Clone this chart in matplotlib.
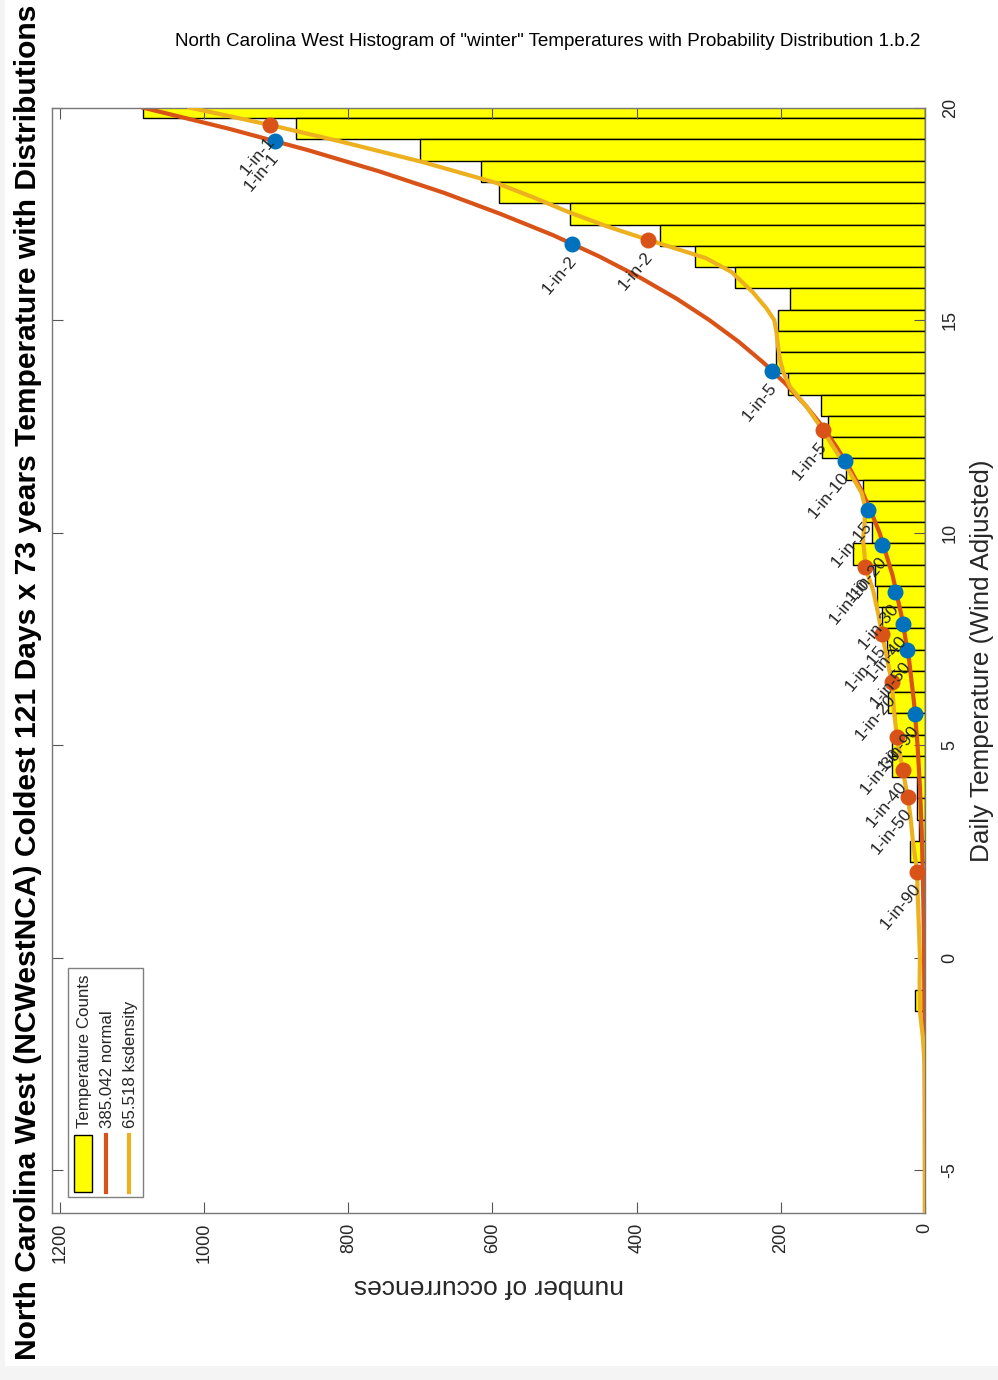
import matplotlib
matplotlib.use('Agg')
import matplotlib.pyplot as plt
from matplotlib.patches import Rectangle
from matplotlib.lines import Line2D

plt.rcParams['font.family'] = ['Liberation Sans', 'DejaVu Sans']
plt.rcParams['axes.unicode_minus'] = False

W, H = 998, 1380

# histogram of daily temperatures (bin centre, count); bins are 0.5 deg wide
bin_temps = [20.0, 19.5, 19.0, 18.5, 18.0, 17.5, 17.0, 16.5, 16.0, 15.5,
             15.0, 14.5, 14.0, 13.5, 13.0, 12.5, 12.0, 11.5, 11.0, 10.5,
             10.0, 9.5, 9.0, 8.5, 8.0, 7.5, 7.0, 6.5, 6.0, 5.5,
             5.0, 4.5, 4.0, 3.5, 3.0, 2.5, 2.0, 1.5, 1.0, 0.5,
             0.0, -0.5, -1.0]
bin_counts = [1085, 872, 700, 616, 591, 493, 368, 319, 264, 187,
              204, 207, 207, 190, 144, 134, 143, 109, 86, 83,
              74, 100, 69, 67, 60, 53, 51, 49, 51, 42,
              46, 46, 11, 11, 8, 21, 0, 0, 0, 0,
              0, 0, 14]

# fitted normal curve, scaled to counts
norm_temps = [20.0, 19.5, 19.0, 18.5, 18.0, 17.5, 17.0, 16.5, 16.0, 15.5,
              15.0, 14.5, 14.0, 13.5, 13.0, 12.5, 12.0, 11.5, 11.0, 10.5,
              10.0, 9.0, 8.0, 7.0, 6.0, 5.0, 4.0, 3.0, 2.0, 1.0,
              0.0, -2.0, -4.0, -6.0]
norm_counts = [1085, 965, 856, 757, 668, 589, 516, 452, 395, 344,
               299, 259, 224, 193, 166, 142, 122, 104, 88, 75,
               63, 45, 32, 22, 15.2, 10.3, 7.0, 4.6, 3.1, 2.0,
               1.3, 0.5, 0.2, 0.08]

# kernel density curve, scaled to counts
ks_temps = [20.0, 19.59, 19.2, 18.72, 18.23, 17.9, 17.54, 17.2, 16.89, 16.46,
            16.13, 15.66, 15.28, 15.0, 14.72, 14.4, 14.06, 13.75, 13.43, 12.96,
            12.42, 11.88, 11.41, 10.94, 10.61, 10.2, 9.83, 9.52, 9.2, 8.65,
            8.1, 7.64, 7.0, 6.49, 5.8, 5.2, 4.42, 3.79, 3.3, 2.78,
            2.02, 1.43, 0.5, 0.02, -0.6, -1.27, -1.86, -2.5, -3.0, -6.0]
ks_counts = [1020, 908, 810, 697, 595, 545, 494, 440, 384, 304,
             268, 239, 220, 209, 206, 204, 201, 196, 187, 164,
             142, 122, 104, 88, 83, 84, 86, 84, 83, 72,
             65, 60, 52, 46, 43, 39, 31, 24, 20, 17,
             11, 10, 8, 7, 7.5, 7, 3, 0.5, 0.1, 0]

# return-period points on each curve
ret_labels = ['1-in-1', '1-in-2', '1-in-5', '1-in-10', '1-in-15',
              '1-in-20', '1-in-30', '1-in-40', '1-in-50', '1-in-90']
norm_ret_temps = [19.22, 16.79, 13.8, 11.69, 10.54, 9.71, 8.61, 7.86, 7.24, 5.74]
norm_ret_counts = [902, 489, 212, 111, 79, 59, 42, 31, 25, 14]
ks_ret_temps = [19.59, 16.89, 12.42, 9.2, 7.62, 6.48, 5.2, 4.42, 3.79, 2.02]
ks_ret_counts = [908, 384, 142, 83, 60, 46, 39, 31, 24, 11]

temp_ticks = [-5, 0, 5, 10, 15, 20]
count_ticks = [0, 200, 400, 600, 800, 1000, 1200]

c_norm = '#D95319'
c_ks = '#EDB120'
c_blue = '#0072BD'
c_txt = '#262626'


def fx(x):
    return x / W


def fy(y):
    return 1 - y / H


fig = plt.figure(figsize=(W / 100, H / 100), dpi=100, facecolor='#f4f4f4')
fig.add_artist(Rectangle((fx(5), fy(1366)), 1, 1366 / H, transform=fig.transFigure,
                         facecolor='white', edgecolor='none', zorder=-10))

# the page is turned: temperature runs up the right side, counts run right-to-left
ax = fig.add_axes([fx(52), fy(1213), (925 - 52) / W, (1213 - 107.6) / H])
ax.barh(bin_temps, bin_counts, height=0.5, color='#FFFF00', edgecolor='black',
        linewidth=1.0, zorder=1)
ax.plot(norm_counts, norm_temps, color=c_norm, lw=3, zorder=2)
ax.plot(ks_counts, ks_temps, color=c_ks, lw=3, zorder=3)
ax.plot(norm_ret_counts, norm_ret_temps, 'o', color=c_blue, ms=10.5, zorder=4)
ax.plot(ks_ret_counts, ks_ret_temps, 'o', color=c_norm, ms=10.5, zorder=4)

for lab, c, t in zip(ret_labels, norm_ret_counts, norm_ret_temps):
    ax.annotate(lab, (c, t), xytext=(1, -10), textcoords='offset points',
                rotation=50, rotation_mode='anchor', ha='right', va='center',
                fontsize=12.5, color=c_txt, zorder=5)
for lab, c, t in zip(ret_labels, ks_ret_counts, ks_ret_temps):
    ax.annotate(lab, (c, t), xytext=(1, -10), textcoords='offset points',
                rotation=50, rotation_mode='anchor', ha='right', va='center',
                fontsize=12.5, color=c_txt, zorder=5)

ax.set_xlim(1211, 0)
ax.set_ylim(-6, 20)
ax.set_xticks(count_ticks)
ax.set_yticks(temp_ticks)
ax.yaxis.tick_right()
ax.yaxis.set_label_position('right')
ax.tick_params(direction='in', length=8, width=0.8, color='#555555',
               top=True, bottom=True, left=True, right=True,
               labelleft=False, labelright=True, labelsize=13, labelcolor=c_txt)
ax.tick_params(axis='x', pad=7)
ax.tick_params(axis='y', pad=12)
plt.setp(ax.get_xticklabels(), rotation=90)
plt.setp(ax.get_yticklabels(), rotation=90, va='center')
for s in ax.spines.values():
    s.set_color('#777777')
    s.set_linewidth(1.0)

ax.set_xlabel('number of occurrences', rotation=180, fontsize=19, color=c_txt, labelpad=8)
ax.set_ylabel('Daily Temperature (Wind Adjusted)', rotation=90, fontsize=18.8,
              color=c_txt, labelpad=8)

fig.text(fx(28), fy(682),
         'North Carolina West (NCWestNCA) Coldest 121 Days x 73 years Temperature with Distributions',
         rotation=90, ha='center', va='center', fontsize=21.6, fontweight='bold', color='black')
fig.text(fx(548), fy(41),
         'North Carolina West Histogram of "winter" Temperatures with Probability Distribution 1.b.2',
         ha='center', va='center', fontsize=13.6, color='black')

# legend, drawn turned with the page
fig.add_artist(Rectangle((fx(68), fy(1197)), (143 - 68) / W, (1197 - 968) / H,
                         transform=fig.transFigure, facecolor='white',
                         edgecolor='#808080', lw=1.0, zorder=6))
fig.add_artist(Rectangle((fx(74), fy(1192)), (92 - 74) / W, (1192 - 1135) / H,
                         transform=fig.transFigure, facecolor='#FFFF00',
                         edgecolor='black', lw=1.0, zorder=7))
fig.add_artist(Line2D([fx(106), fx(106)], [fy(1135), fy(1192)], color=c_norm,
                      lw=3, transform=fig.transFigure, zorder=7))
fig.add_artist(Line2D([fx(129), fx(129)], [fy(1135), fy(1192)], color=c_ks,
                      lw=3, transform=fig.transFigure, zorder=7))
leg_labels = ['Temperature Counts', '385.042 normal', '65.518 ksdensity']
for x, lab in zip([84, 107, 130], leg_labels):
    fig.text(fx(x), fy(1128), lab, rotation=90, ha='center', va='bottom',
             fontsize=12.2, color=c_txt, zorder=8)

fig.savefig('out.png', dpi=100, facecolor=fig.get_facecolor())
